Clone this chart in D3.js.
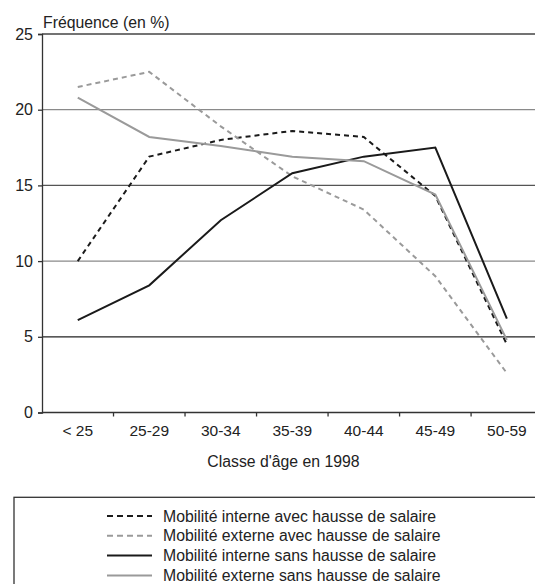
<!DOCTYPE html>
<html>
<head>
<meta charset="utf-8">
<script src="https://cdn.jsdelivr.net/npm/d3@7/dist/d3.min.js"></script>
<style>
  html, body { margin: 0; padding: 0; background: #fff; }
  svg { display: block; font-family: "Liberation Sans", Arial, Helvetica, sans-serif; }
</style>
</head>
<body>
<svg id="chart" width="535" height="584"></svg>
<script>
const categories = ["< 25", "25-29", "30-34", "35-39", "40-44", "45-49", "50-59"];
const interneAvec = [10.0, 16.9, 18.0, 18.6, 18.2, 14.3, 4.5];
const externeAvec = [21.5, 22.5, 18.9, 15.6, 13.4, 9.0, 2.6];
const interneSans = [6.1, 8.4, 12.7, 15.8, 16.9, 17.5, 6.2];
const externeSans = [20.8, 18.2, 17.6, 16.9, 16.6, 14.4, 4.8];
const yTicks = [0, 5, 10, 15, 20, 25];
const seriesNames = [
  "Mobilité interne avec hausse de salaire",
  "Mobilité externe avec hausse de salaire",
  "Mobilité interne sans hausse de salaire",
  "Mobilité externe sans hausse de salaire"
];
const yTitle = "Fréquence (en %)";
const xTitle = "Classe d'âge en 1998";

const series = [
  { name: seriesNames[0], values: interneAvec, color: "#1a1a1a", dash: "5,4" },
  { name: seriesNames[1], values: externeAvec, color: "#9a9a9a", dash: "5,4" },
  { name: seriesNames[2], values: interneSans, color: "#1a1a1a", dash: null },
  { name: seriesNames[3], values: externeSans, color: "#9a9a9a", dash: null }
];

const svg = d3.select("#chart");
const mLeft = 42, mRight = 542.6, mTop = 34, mBottom = 412.5;

const x = d3.scaleBand().domain(categories).range([mLeft, mRight]).paddingInner(0).paddingOuter(0);
const y = d3.scaleLinear().domain([0, 25]).range([mBottom, mTop]);

// gridlines
const gridColors = { 5: "#222", 10: "#8a8a8a", 15: "#555", 20: "#8a8a8a", 25: "#444" };
svg.append("g").selectAll("line")
  .data(yTicks.filter(d => d > 0))
  .join("line")
  .attr("x1", mLeft).attr("x2", 535)
  .attr("y1", d => y(d)).attr("y2", d => y(d))
  .attr("stroke", d => gridColors[d])
  .attr("stroke-width", 1.3);

// y axis
const yAxis = svg.append("g")
  .attr("transform", `translate(${mLeft},0)`)
  .call(d3.axisLeft(y).tickValues(yTicks).tickSize(4).tickPadding(5));
yAxis.select(".domain").attr("stroke", "#333").attr("stroke-width", 1.3);
yAxis.selectAll(".tick line").attr("stroke", "#333").attr("stroke-width", 1.3);
yAxis.selectAll(".tick text").attr("font-size", "16px").attr("fill", "#222")
  .attr("font-family", "Liberation Sans, Arial, sans-serif");

// x axis
const xAxis = svg.append("g")
  .attr("transform", `translate(0,${mBottom})`)
  .call(d3.axisBottom(x).tickSize(0).tickPadding(12));
xAxis.select(".domain").remove();
svg.append("line").attr("x1", mLeft).attr("x2", 535).attr("y1", mBottom).attr("y2", mBottom)
  .attr("stroke", "#333").attr("stroke-width", 1.3);
svg.append("g").selectAll("line")
  .data(categories.slice(1))
  .join("line")
  .attr("x1", d => x(d)).attr("x2", d => x(d))
  .attr("y1", mBottom).attr("y2", mBottom + 4)
  .attr("stroke", "#333").attr("stroke-width", 1.3);
xAxis.selectAll(".tick text").attr("font-size", "15.5px").attr("fill", "#222")
  .attr("font-family", "Liberation Sans, Arial, sans-serif");

// titles
svg.append("text").attr("x", 43).attr("y", 28).attr("font-size", "15.8px").attr("fill", "#222").text(yTitle);
svg.append("text").attr("x", 283.5).attr("y", 467).attr("text-anchor", "middle")
  .attr("font-size", "15.8px").attr("fill", "#222").text(xTitle);

// lines
const line = d3.line()
  .x((d, i) => x(categories[i]) + x.bandwidth() / 2)
  .y(d => y(d));
svg.append("g").selectAll("path")
  .data(series)
  .join("path")
  .attr("d", d => line(d.values))
  .attr("fill", "none")
  .attr("stroke", d => d.color)
  .attr("stroke-width", 2)
  .attr("stroke-dasharray", d => d.dash)
  .attr("stroke-linejoin", "miter");

// legend
svg.append("rect").attr("x", 14).attr("y", 497.3).attr("width", 540).attr("height", 120)
  .attr("fill", "none").attr("stroke", "#333").attr("stroke-width", 1.3);
const lg = svg.append("g").selectAll("g")
  .data(series)
  .join("g")
  .attr("transform", (d, i) => `translate(0,${516 + i * 19.8})`);
lg.append("line").attr("x1", 107).attr("x2", 152).attr("y1", 0).attr("y2", 0)
  .attr("stroke", d => d.color).attr("stroke-width", 2)
  .attr("stroke-dasharray", d => d.dash ? "6,4" : null);
lg.append("text").attr("x", 163).attr("y", 5.5).attr("font-size", "15.8px").attr("fill", "#222")
  .text(d => d.name);
</script>
</body>
</html>
